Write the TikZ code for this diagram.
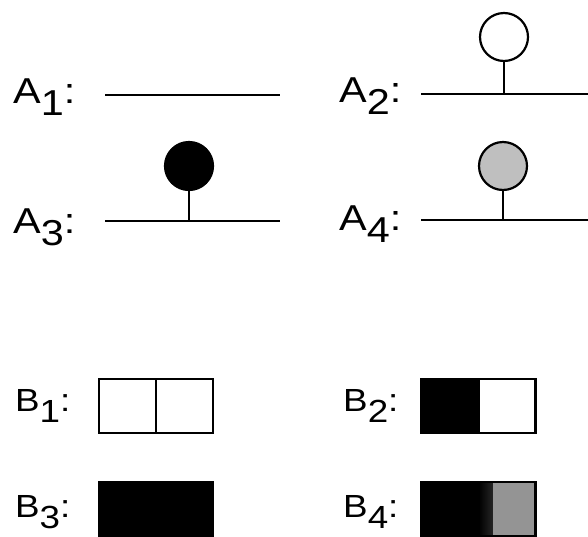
\documentclass[tikz,border=0pt]{standalone}
\usepackage{graphicx}
\usepackage{fontspec}
\setmainfont{Liberation Sans}
\newcommand\glabel[2]{\scalebox{1.15}[1]{#1\raisebox{-0.36em}{#2}:}}

\begin{document}
\begin{tikzpicture}[x=1pt, y=-1pt,
    strand/.style={line width=2.6pt},
    stem/.style={line width=2.2pt},
    bead/.style={draw, circle, line width=2.2pt, minimum size=48pt, inner sep=0pt},
    cell/.style={draw, rectangle, line width=2.6pt, minimum width=57pt, minimum height=54pt, inner sep=0pt},
    alab/.style={anchor=base west, inner sep=0pt, font=\fontsize{36}{40}\selectfont},
    blab/.style={anchor=base west, inner sep=0pt, font=\fontsize{32}{36}\selectfont}]
    \useasboundingbox (0,0) rectangle (588,536);
    % strands A1 - A4
    \node[alab] (A1) at (13,103) {\glabel{A}{1}};
    \node[alab] (A2) at (339,102) {\glabel{A}{2}};
    \node[alab] (A3) at (13,233) {\glabel{A}{3}};
    \node[alab] (A4) at (339,230) {\glabel{A}{4}};
    \coordinate (s1w) at (105,95);  \coordinate (s1e) at (280,95);
    \coordinate (s2w) at (421,94);  \coordinate (s2e) at (588,94);
    \coordinate (s3w) at (105,221); \coordinate (s3e) at (280,221);
    \coordinate (s4w) at (421,220); \coordinate (s4e) at (588,220);
    \draw[strand] (s1w) -- (s1e);
    \draw[strand] (s2w) -- (s2e);
    \draw[strand] (s3w) -- (s3e);
    \draw[strand] (s4w) -- (s4e);
    \node[bead, fill=white] (c2) at (504,37) {};
    \node[bead, fill=black] (c3) at (189,166) {};
    \node[bead, fill=black!25] (c4) at (503,166) {};
    \draw[stem] (c2.south) -- (c2 |- s2w);
    \draw[stem] (c3.south) -- (c3 |- s3w);
    \draw[stem] (c4.south) -- (c4 |- s4w);
    % boxes B1 - B4
    \node[blab] (B1) at (15,411) {\glabel{B}{1}};
    \node[blab] (B2) at (343,411) {\glabel{B}{2}};
    \node[blab] (B3) at (15,517) {\glabel{B}{3}};
    \node[blab] (B4) at (343,517) {\glabel{B}{4}};
    \node[cell, fill=white] (b1l) at (127.5,406) {};
    \node[cell, fill=white] (b1r) at (184.5,406) {};
    \node[cell, fill=black] (b2l) at (450,406) {};
    \node[cell, fill=white] (b2r) at (507,406) {};
    \node[cell, fill=black] (b3l) at (127.5,509) {};
    \node[cell, fill=black] (b3r) at (184.5,509) {};
    \node[cell, fill=black] (b4l) at (450,509) {};
    \node[cell, fill=black!42, path picture={
        \shade[left color=black, right color=black!42]
          (path picture bounding box.south west) rectangle ([xshift=14pt]path picture bounding box.north west);}]
        (b4r) at (507,509) {};
\end{tikzpicture}
\end{document}
